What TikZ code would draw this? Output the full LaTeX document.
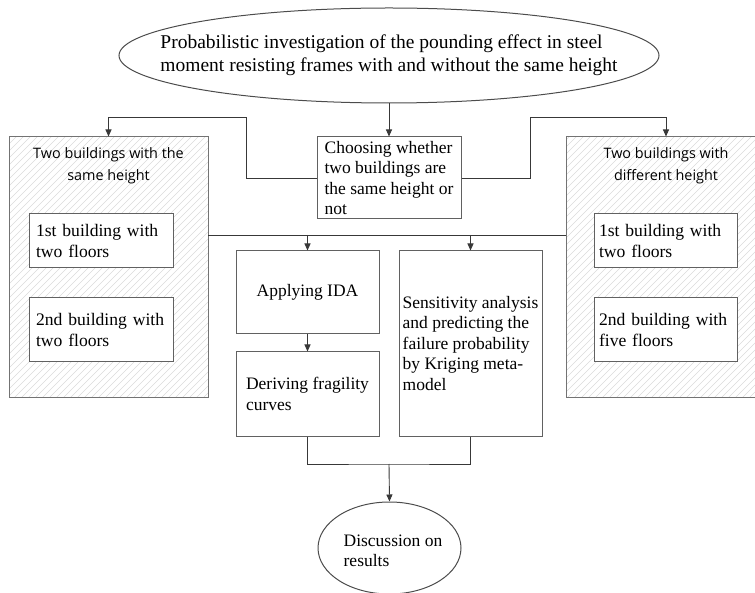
\documentclass[tikz,border=0pt]{standalone}
\usepackage{fontspec}
\setmainfont{Liberation Serif}
\newfontfamily\titlefont{Open Sans}
\usetikzlibrary{arrows.meta,shapes.geometric,calc}
\tikzset{
  conn/.style={draw=black!78, line width=0.9pt},
  arr/.style={conn, -{Triangle[length=7pt,width=6pt]}},
  boxnode/.style={draw=black!62, line width=1pt, fill=white, rectangle, inner xsep=6pt, inner ysep=0pt, align=left},
  panelnode/.style={draw=black!55, line width=1pt, rectangle, inner sep=0pt},
  hatch/.style={draw=black!14, line width=0.6pt},
  body/.style={font=\fontsize{17.5}{20.5}\selectfont},
  innertxt/.style={font=\fontsize{17.6}{20.5}\selectfont},
  ptitle/.style={font=\titlefont\fontsize{14.4}{22}\selectfont, align=center, inner sep=0pt},
  ovalnode/.style={ellipse, draw=black!70, line width=1pt, inner sep=0pt},
}
\begin{document}
\begin{tikzpicture}[x=1pt, y=-1pt]
\useasboundingbox (0,0) rectangle (755,593);

% hatching of the two panels
\begin{scope}
  \clip (9,137) rectangle (208,398);
  \foreach \i in {-280,-273,...,220} \draw[hatch] (\i,398) -- ++(280,-280);
\end{scope}
\begin{scope}
  \clip (566,137) rectangle (766,398);
  \foreach \i in {280,287,...,780} \draw[hatch] (\i,398) -- ++(280,-280);
\end{scope}

% panels
\node[panelnode, minimum width=199pt, minimum height=261pt] (leftpanel) at (108.5,267.5) {};
\node[panelnode, minimum width=200pt, minimum height=261pt] (rightpanel) at (666,267.5) {};
\node[ptitle] (lefttitle) at (108.5,166) {Two buildings with the\\same height};
\node[ptitle] (righttitle) at (666,166) {Two buildings with\\different height};

% inner boxes
\node[boxnode, innertxt, minimum width=144pt, minimum height=54pt, inner xsep=7pt, text width=130pt] (l1) at (101,241) {1st building with\\two floors};
\node[boxnode, innertxt, minimum width=144pt, minimum height=64pt, inner xsep=7pt, text width=130pt] (l2) at (101,330) {2nd building with\\two floors};
\node[boxnode, innertxt, minimum width=143pt, minimum height=54pt, inner xsep=5pt, text width=133pt] (r1) at (665.5,241) {1st building with\\two floors};
\node[boxnode, innertxt, minimum width=143pt, minimum height=64pt, inner xsep=5pt, text width=133pt] (r2) at (665.5,330) {2nd building with\\five floors};

% top ellipse
\node[ovalnode, minimum width=540pt, minimum height=95pt] (top) at (389,55.5) {};
\node[align=left, font=\fontsize{19.5}{23}\selectfont, inner sep=0pt] (toptext) at (top.center) {Probabilistic investigation of the pounding effect in steel\\moment resisting frames with and without the same height};

% choosing box
\node[boxnode, body, minimum width=144pt, minimum height=82pt] (choose) at (389,178) {Choosing whether\\two buildings are\\the same height or\\not};

% middle boxes
\node[boxnode, body, minimum width=143pt, minimum height=83pt, align=center] (apply) at (307.5,292.5) {Applying IDA};
\node[boxnode, body, minimum width=143pt, minimum height=84pt] (derive) at (307.5,394) {Deriving fragility\\curves};
\node[boxnode, body, minimum width=143pt, minimum height=185pt, inner xsep=3pt] (sens) at (470.5,343.5) {Sensitivity analysis\\and predicting the\\failure probability\\by Kriging meta-\\model};

% bottom ellipse
\node[ovalnode, minimum width=143pt, minimum height=92pt] (bottom) at (389.5,548) {};
\node[align=left, body, inner sep=0pt] (bottomtext) at (393,551) {Discussion on\\results};

% connectors
\coordinate (lcorner) at (246,117);
\coordinate (rcorner) at (530,117);
\coordinate (hl) at (208,235);
\coordinate (hr) at (566,235);
\coordinate (join) at (389,464);

\draw[arr] (top.south) -- (choose.north);
\draw[arr] (choose.west) -| (lcorner) -| (leftpanel.north);
\draw[arr] (choose.east) -| (rcorner) -| (rightpanel.north);
\draw[conn] (hl) -- (hr);
\draw[arr] (apply.north |- hl) -- (apply.north);
\draw[arr] (sens.north |- hl) -- (sens.north);
\draw[arr] (apply.south) -- (derive.north);
\draw[conn] (derive.south) |- (join) -| (sens.south);
\draw[arr] (join) -- (bottom.north);
\end{tikzpicture}
\end{document}
